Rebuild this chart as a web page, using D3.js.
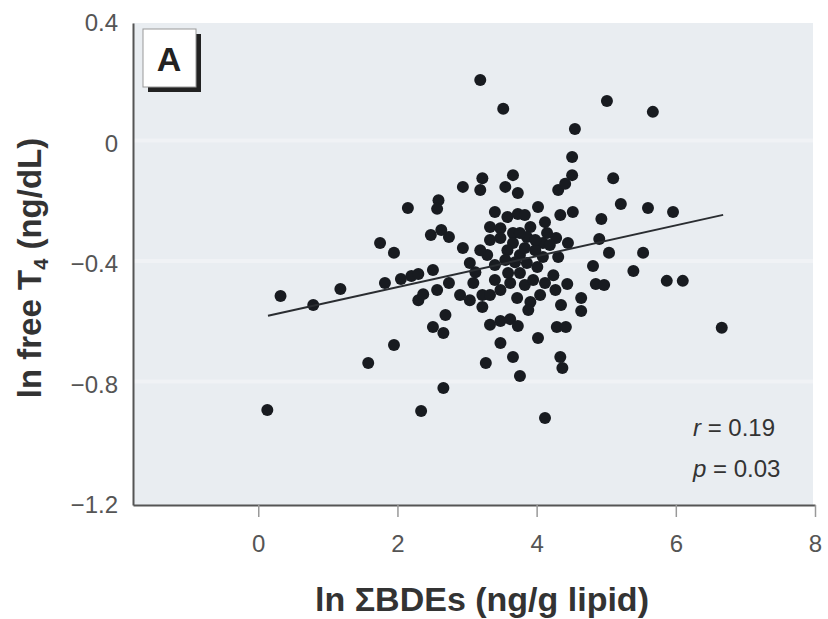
<!DOCTYPE html>
<html>
<head>
<meta charset="utf-8">
<script src="https://cdn.jsdelivr.net/npm/d3@7"></script>
<style>
  body { margin: 0; background: #fff; }
  text { font-family: "Liberation Sans", Arial, sans-serif; }
</style>
</head>
<body>
<div id="chart"></div>
<script>
// Data (ln sum BDEs vs ln free T4)
const bdeX = [
  0.13, 0.32, 0.79, 1.18, 1.58, 1.95, 1.75, 1.95, 2.15, 1.82,
  2.05, 2.20, 2.30, 2.30, 2.37, 2.34, 2.66, 2.51, 2.66, 2.69,
  2.51, 2.57, 2.74, 2.90, 2.48, 2.63, 2.74, 2.94, 2.59, 2.57,
  2.94, 3.19, 3.52, 3.22, 3.19, 3.66, 3.55, 3.73, 3.33, 3.48,
  3.58, 3.73, 3.66, 4.02, 3.91, 4.15, 4.34, 4.52, 4.55, 4.51,
  4.51, 4.31, 4.41, 5.01, 5.67, 5.10, 5.21, 5.60, 5.96, 4.93,
  4.90, 4.45, 4.28, 5.04, 5.53, 4.81, 5.39, 4.31, 4.24, 4.44,
  4.85, 4.97, 5.87, 6.10, 4.64, 4.64, 4.35, 4.29, 4.42, 4.34,
  4.37, 6.66, 4.12, 4.02, 3.76, 3.66, 3.48, 3.27, 3.33, 3.48,
  3.62, 3.73, 3.22, 3.22, 3.09, 3.12, 3.04, 3.29, 3.48, 3.66,
  3.86, 4.09, 3.58, 3.76, 4.09, 3.86, 4.01, 3.59, 3.76, 3.62,
  3.72, 3.91, 4.05, 4.12, 3.40, 3.48, 3.83, 3.98, 3.33, 3.83,
  3.40, 3.83, 4.12, 3.55, 3.69, 3.95, 3.40, 3.98, 3.33, 4.27,
  4.19, 3.76, 3.19, 3.04, 3.88
];
const t4Y = [
  -0.885, -0.506, -0.536, -0.483, -0.729, -0.669, -0.330, -0.363, -0.214, -0.463,
  -0.450, -0.440, -0.433, -0.520, -0.500, -0.888, -0.812, -0.609, -0.629, -0.569,
  -0.420, -0.486, -0.463, -0.503, -0.304, -0.287, -0.310, -0.347, -0.188, -0.217,
  -0.144, 0.211, 0.115, -0.115, -0.154, -0.105, -0.144, -0.164, -0.277, -0.281,
  -0.244, -0.234, -0.297, -0.211, -0.277, -0.297, -0.237, -0.227, 0.048, -0.045,
  -0.105, -0.154, -0.134, 0.141, 0.105, -0.115, -0.201, -0.214, -0.227, -0.251,
  -0.317, -0.330, -0.314, -0.363, -0.363, -0.407, -0.423, -0.377, -0.437, -0.466,
  -0.466, -0.470, -0.456, -0.456, -0.513, -0.556, -0.536, -0.609, -0.609, -0.709,
  -0.745, -0.612, -0.911, -0.646, -0.772, -0.709, -0.662, -0.729, -0.602, -0.589,
  -0.583, -0.606, -0.543, -0.503, -0.463, -0.427, -0.397, -0.370, -0.314, -0.330,
  -0.310, -0.330, -0.354, -0.370, -0.377, -0.397, -0.410, -0.430, -0.430, -0.463,
  -0.513, -0.526, -0.503, -0.463, -0.403, -0.486, -0.470, -0.354, -0.320, -0.347,
  -0.227, -0.237, -0.261, -0.387, -0.394, -0.453, -0.453, -0.320, -0.503, -0.486,
  -0.337, -0.297, -0.354, -0.520, -0.553
];

// regression line endpoints
const fitX = [0.14, 6.68];
const fitY = [-0.572, -0.237];

const xTicks = [0, 2, 4, 6, 8];
const yTicks = [-1.2, -0.8, -0.4, 0, 0.4];
const statLines = ["0.19", "0.03"];

const W = 828, H = 619;
const svg = d3.select("#chart").append("svg").attr("width", W).attr("height", H);

const x = d3.scaleLinear().domain([-1.8, 8]).range([133, 815]);
const y = d3.scaleLinear().domain([-1.2, 0.4]).range([505, 23]);

// plot background
svg.append("rect")
  .attr("x", x(-1.8)).attr("y", y(0.4))
  .attr("width", x(8) - x(-1.8) - 2).attr("height", y(-1.2) - y(0.4))
  .attr("fill", "#e9edf1");

// faint lighter bands at y ticks
svg.append("g").selectAll("line")
  .data(yTicks.slice(1, 4))
  .enter().append("line")
  .attr("x1", x(-1.8)).attr("x2", x(8) - 2)
  .attr("y1", d => y(d) - 3).attr("y2", d => y(d) - 3)
  .attr("stroke", "#f0f2f5").attr("stroke-width", 4);

// axes
const fmtY = d => d === 0 ? "0" : d3.format(".1f")(d);

const yAxis = svg.append("g")
  .attr("transform", `translate(${x(-1.8)},0)`)
  .call(d3.axisLeft(y).tickValues(yTicks).tickFormat(fmtY).tickSize(0).tickSizeOuter(0).tickPadding(15));

const xAxis = svg.append("g")
  .attr("transform", `translate(0,${y(-1.2)})`)
  .call(d3.axisBottom(x).tickValues(xTicks).tickSize(12).tickSizeOuter(0).tickPadding(18));

[xAxis, yAxis].forEach(a => {
  a.select(".domain").attr("stroke", "#555").attr("stroke-width", 2);
  a.selectAll(".tick line").attr("stroke", "#999").attr("stroke-width", 1.5);
  a.selectAll(".tick text").attr("fill", "#555").attr("font-size", 24)
    .style("font-family", "'Liberation Sans', Arial, sans-serif");
});

// points
const pts = d3.zip(bdeX, t4Y);
svg.append("g").selectAll("circle")
  .data(pts)
  .enter().append("circle")
  .attr("cx", d => x(d[0]))
  .attr("cy", d => y(d[1]))
  .attr("r", 6)
  .attr("fill", "#181b20");

// fitted line
svg.append("path")
  .datum(d3.zip(fitX, fitY))
  .attr("d", d3.line().x(d => x(d[0])).y(d => y(d[1])))
  .attr("fill", "none")
  .attr("stroke", "#2a2d31")
  .attr("stroke-width", 2);

// panel label "A"
const box = svg.append("g");
box.append("rect").attr("x", 148).attr("y", 34).attr("width", 53).attr("height", 58).attr("fill", "#222");
box.append("rect").attr("x", 143).attr("y", 29).attr("width", 53).attr("height", 58)
  .attr("fill", "#fff").attr("stroke", "#999").attr("stroke-width", 1);
box.append("text").attr("x", 169).attr("y", 71)
  .attr("text-anchor", "middle").attr("font-size", 34).attr("font-weight", "bold")
  .attr("fill", "#222").text("A");

// stats text
const stats = svg.append("g").attr("fill", "#333").attr("font-size", 24);
const s1 = stats.append("text").attr("x", 693).attr("y", 436);
s1.append("tspan").attr("font-style", "italic").text("r");
s1.append("tspan").text(" = " + statLines[0]);
const s2 = stats.append("text").attr("x", 693).attr("y", 477);
s2.append("tspan").attr("font-style", "italic").text("p");
s2.append("tspan").text(" = " + statLines[1]);

// axis titles
svg.append("text")
  .attr("x", 482).attr("y", 611)
  .attr("text-anchor", "middle")
  .attr("font-size", 34).attr("font-weight", "bold").attr("fill", "#333")
  .text("ln \u03A3BDEs (ng/g lipid)");

const yt = svg.append("text")
  .attr("transform", "translate(41,268) rotate(-90)")
  .attr("text-anchor", "middle")
  .attr("font-size", 33).attr("font-weight", "bold").attr("fill", "#333");
yt.append("tspan").text("ln free T");
yt.append("tspan").attr("font-size", 20).attr("dy", 7).text("4");
yt.append("tspan").attr("dy", -7).text(" (ng/dL)");
</script>
</body>
</html>
